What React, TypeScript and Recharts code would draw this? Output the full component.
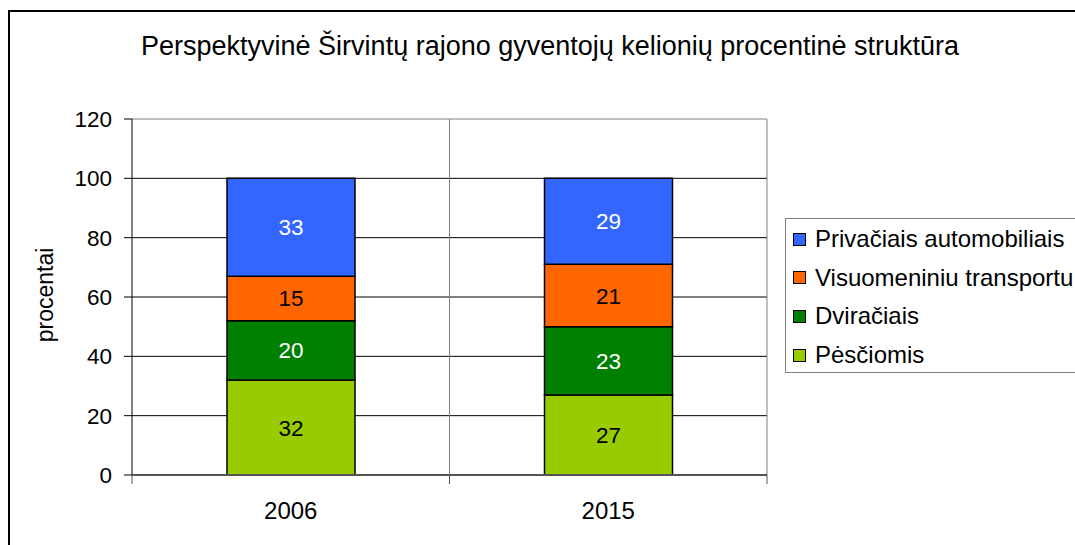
import React from 'react';
import { BarChart, Bar, XAxis, YAxis, CartesianGrid, LabelList } from 'recharts';

const categories = ['2006', '2015'];
const pesciomis = [32, 27];
const dviraciais = [20, 23];
const visuomeniniu = [15, 21];
const privaciais = [33, 29];
const yTicks = [0, 20, 40, 60, 80, 100, 120];

const series = [
  { key: 'pesciomis', name: 'Pėsčiomis', values: pesciomis, color: '#99CC00', text: '#000000' },
  { key: 'dviraciais', name: 'Dviračiais', values: dviraciais, color: '#008000', text: '#FFFFFF' },
  { key: 'visuomeniniu', name: 'Visuomeniniu transportu', values: visuomeniniu, color: '#FF6600', text: '#000000' },
  { key: 'privaciais', name: 'Privačiais automobiliais', values: privaciais, color: '#3366FF', text: '#FFFFFF' },
];

const data = categories.map((c, i) => {
  const row: any = { year: c };
  series.forEach((s) => (row[s.key] = s.values[i]));
  return row;
});

const FONT = '"Liberation Sans", Arial, sans-serif';
const FS = 22.5;

const XTick = (props: any) => {
  const { x, y, payload, index } = props;
  const half = payload && typeof payload.offset === 'number' ? payload.offset : 158.75;
  return (
    <g>
      <line x1={x - half} x2={x - half} y1={y} y2={y + 9} stroke="#555" strokeWidth={1} />
      {index === categories.length - 1 && (
        <line x1={x + half} x2={x + half} y1={y} y2={y + 9} stroke="#555" strokeWidth={1} />
      )}
      <text x={x} y={y + 44} textAnchor="middle" fill="#000" fontSize={24} fontFamily={FONT}>
        {payload.value}
      </text>
    </g>
  );
};

const yPos = (props: any, v: number) => {
  const ax = props && props.yAxis;
  if (ax && typeof ax.scale === 'function') return ax.scale(v);
  const o = props.offset;
  return o.top + o.height * (1 - v / 120);
};

export default function App() {
  const legendItems = [...series].reverse();
  return (
    <div style={{ position: 'fixed', left: 0, top: 0, width: 1075, height: 545, overflow: 'hidden', background: '#fff', fontFamily: FONT }}>
      <div style={{ position: 'absolute', left: 8, top: 10, width: 1200, height: 700, borderLeft: '2px solid #000', borderTop: '2px solid #000' }} />
      <div style={{ position: 'absolute', left: 0, top: 31, width: 1100, textAlign: 'center', fontSize: 27, lineHeight: '31px', color: '#000', whiteSpace: 'nowrap' }}>
        Perspektyvinė Širvintų rajono gyventojų kelionių procentinė struktūra
      </div>
      <div style={{ position: 'absolute', left: 45, top: 295, width: 0, height: 0 }}>
        <div style={{ position: 'absolute', transform: 'translate(-50%, -50%) rotate(-90deg)', fontSize: 23, color: '#000', whiteSpace: 'nowrap' }}>
          procentai
        </div>
      </div>
      <div style={{ position: 'absolute', left: 0, top: 0 }}>
        <BarChart width={1075} height={545} data={data} margin={{ top: 119, right: 308, left: 72, bottom: 30 }} barCategoryGap={0}>
          <CartesianGrid
            vertical={false}
            stroke="#000"
            horizontalCoordinatesGenerator={(p: any) => [20, 40, 60, 80, 100].map((v) => yPos(p, v))}
          />
          <CartesianGrid
            stroke="#808080"
            horizontalCoordinatesGenerator={(p: any) => [yPos(p, 120)]}
            verticalCoordinatesGenerator={(p: any) => [p.offset.left + p.offset.width / 2, p.offset.left + p.offset.width]}
          />
          <XAxis
            dataKey="year"
            height={40}
            axisLine={{ stroke: '#555', strokeWidth: 2 }}
            tickLine={false}
            tickSize={0}
            tickMargin={0}
            tick={<XTick />}
            interval={0}
          />
          <YAxis
            width={60}
            domain={[0, 120]}
            ticks={yTicks}
            interval={0}
            axisLine={{ stroke: '#000' }}
            tickLine={{ stroke: '#000' }}
            tickSize={8}
            tickMargin={12}
            tick={{ fill: '#000', fontSize: FS, fontFamily: FONT }}
          />
          {series.map((s) => (
            <Bar key={s.key} dataKey={s.key} name={s.name} stackId="a" fill={s.color} stroke="#000" strokeWidth={1.5} barSize={128} isAnimationActive={false}>
              <LabelList dataKey={s.key} position="center" fill={s.text} fontSize={22.5} fontFamily={FONT} />
            </Bar>
          ))}
        </BarChart>
      </div>
      <div style={{ position: 'absolute', left: 785, top: 218, width: 320, height: 155, border: '1px solid #808080', boxSizing: 'border-box' }}>
        {legendItems.map((s, i) => (
          <div key={s.key} style={{ position: 'absolute', left: 0, top: 20 + i * 38.7 - 14, height: 28, display: 'flex', alignItems: 'center', whiteSpace: 'nowrap' }}>
            <div style={{ marginLeft: 7, width: 11, height: 11, background: s.color, border: '1px solid #000' }} />
            <span style={{ marginLeft: 9, fontSize: 24, color: '#000' }}>{s.name}</span>
          </div>
        ))}
      </div>
    </div>
  );
}
